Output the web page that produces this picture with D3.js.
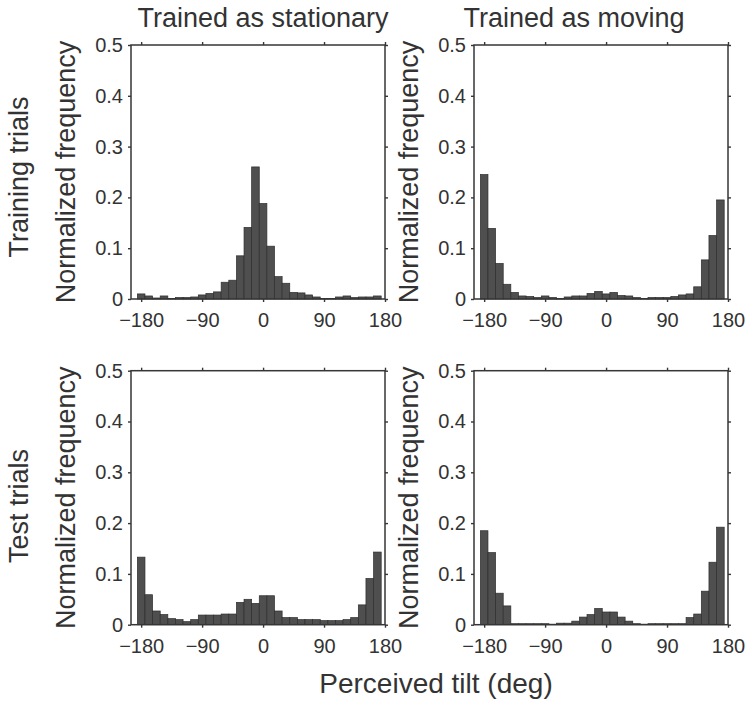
<!DOCTYPE html>
<html>
<head>
<meta charset="utf-8">
<script src="https://cdn.jsdelivr.net/npm/d3@7/dist/d3.min.js"></script>
<style>
  html, body { margin: 0; padding: 0; background: #fff; }
  svg { display: block; }
  text { font-family: "Liberation Sans", Arial, Helvetica, sans-serif; fill: #333; }
</style>
</head>
<body>
<svg id="chart" width="753" height="707"></svg>
<script>
// ---- data ----
const binCenters = [-180, -168.75, -157.5, -146.25, -135, -123.75, -112.5, -101.25,
  -90, -78.75, -67.5, -56.25, -45, -33.75, -22.5, -11.25,
  0, 11.25, 22.5, 33.75, 45, 56.25, 67.5, 78.75,
  90, 101.25, 112.5, 123.75, 135, 146.25, 157.5, 168.75];
const binWidth = 11.25;

const columnTitles = ["Trained as stationary", "Trained as moving"];
const rowTitles = ["Training trials", "Test trials"];
const xTicks = [-180, -90, 0, 90, 180];
const yTicks = [0, 0.1, 0.2, 0.3, 0.4, 0.5];

const trainingStationary = [0.010, 0.006, 0.002, 0.006, 0.001, 0.003, 0.003, 0.004,
  0.008, 0.011, 0.014, 0.033, 0.037, 0.085, 0.141, 0.260,
  0.188, 0.104, 0.044, 0.031, 0.013, 0.012, 0.008, 0.004,
  0.001, 0.001, 0.004, 0.006, 0.003, 0.004, 0.004, 0.006];
const trainingMoving = [0.245, 0.139, 0.070, 0.029, 0.013, 0.006, 0.005, 0.003,
  0.006, 0.003, 0.001, 0.004, 0.006, 0.006, 0.011, 0.015,
  0.010, 0.013, 0.007, 0.006, 0.003, 0.001, 0.003, 0.003,
  0.003, 0.005, 0.008, 0.010, 0.024, 0.077, 0.125, 0.195];
const testStationary = [0.133, 0.059, 0.027, 0.020, 0.012, 0.010, 0.006, 0.010,
  0.019, 0.019, 0.019, 0.021, 0.021, 0.044, 0.050, 0.042,
  0.057, 0.057, 0.027, 0.014, 0.014, 0.010, 0.010, 0.010,
  0.008, 0.008, 0.008, 0.010, 0.014, 0.039, 0.091, 0.143];
const testMoving = [0.185, 0.142, 0.062, 0.037, 0.002, 0.002, 0.002, 0.002,
  0.002, 0.001, 0.003, 0.003, 0.007, 0.015, 0.020, 0.032,
  0.025, 0.025, 0.015, 0.007, 0.002, 0.001, 0.002, 0.002,
  0.002, 0.002, 0.002, 0.014, 0.021, 0.066, 0.123, 0.192];

const panelsData = [
  [trainingStationary, trainingMoving],
  [testStationary, testMoving]
];

// ---- layout ----
const svg = d3.select("#chart");
const colX = [131, 474];
const rowY = [45, 370.7];
const pw = 254, ph = 254;
const axisColor = "#363636";

const x = d3.scaleLinear().domain([-195, 180]).range([0, pw]);
const y = d3.scaleLinear().domain([0, 0.5]).range([ph, 0]);
const xFmt = d3.format("");
const yFmt = d => String(d);

for (let r = 0; r < 2; r++) {
  for (let c = 0; c < 2; c++) {
    const g = svg.append("g").attr("transform", `translate(${colX[c]},${rowY[r]})`);
    const vals = panelsData[r][c];
    const bins = binCenters.map((ctr, i) => ({ c: ctr, v: vals[i] }));

    g.selectAll("rect.bar").data(bins).enter().append("rect")
      .attr("class", "bar")
      .attr("x", d => x(d.c - binWidth / 2))
      .attr("width", d => x(d.c + binWidth / 2) - x(d.c - binWidth / 2))
      .attr("y", d => y(d.v))
      .attr("height", d => y(0) - y(d.v))
      .attr("fill", "#4f4f4f")
      .attr("stroke", "#2e2e2e")
      .attr("stroke-width", 0.7);

    const styleAxis = sel => {
      sel.select(".domain").remove();
      sel.selectAll(".tick line").attr("stroke", axisColor).attr("stroke-width", 1.4);
      sel.selectAll(".tick text").attr("fill", "#333").style("font-size", "20px")
        .style("font-family", '"Liberation Sans", Arial, Helvetica, sans-serif');
    };

    // bottom axis
    g.append("g").attr("transform", `translate(0,${ph})`)
      .call(d3.axisBottom(x).tickValues(xTicks).tickSize(3).tickPadding(11).tickFormat(xFmt))
      .call(styleAxis);
    // top axis (ticks only)
    g.append("g")
      .call(d3.axisTop(x).tickValues(xTicks).tickSize(3).tickFormat(""))
      .call(styleAxis);
    // left axis
    g.append("g")
      .call(d3.axisLeft(y).tickValues(yTicks).tickSize(3).tickPadding(5).tickFormat(yFmt))
      .call(styleAxis);
    // right axis (ticks only)
    g.append("g").attr("transform", `translate(${pw},0)`)
      .call(d3.axisRight(y).tickValues(yTicks).tickSize(3).tickFormat(""))
      .call(styleAxis);

    // box
    g.append("rect").attr("x", 0).attr("y", 0).attr("width", pw).attr("height", ph)
      .attr("fill", "none").attr("stroke", axisColor).attr("stroke-width", 1.5);

    // y label
    g.append("text")
      .attr("transform", `translate(-56,${ph / 2}) rotate(-90)`)
      .attr("text-anchor", "middle")
      .style("font-size", "27px")
      .text("Normalized frequency");
  }
}

// column titles
const titleX = [263, 574];
columnTitles.forEach((t, i) => {
  svg.append("text").attr("x", titleX[i]).attr("y", 27)
    .attr("text-anchor", "middle").style("font-size", "27px").text(t);
});

// row titles
const rowTitleY = [177, 506];
rowTitles.forEach((t, i) => {
  svg.append("text")
    .attr("transform", `translate(28,${rowTitleY[i]}) rotate(-90)`)
    .attr("text-anchor", "middle").style("font-size", "27px").text(t);
});

// x label
svg.append("text").attr("x", 436).attr("y", 693)
  .attr("text-anchor", "middle").style("font-size", "28px").text("Perceived tilt (deg)");
</script>
</body>
</html>
